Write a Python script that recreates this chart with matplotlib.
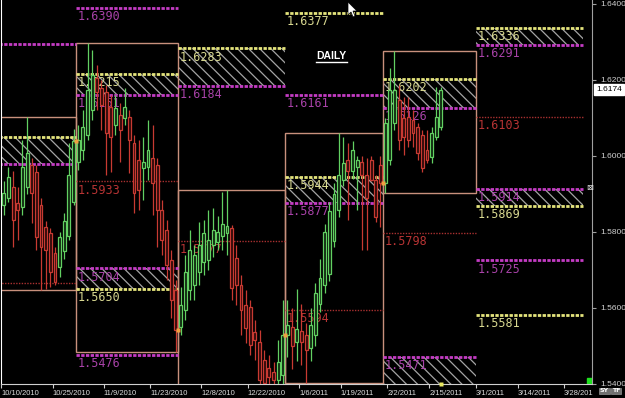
import numpy as np
import pandas as pd
import matplotlib
matplotlib.use('Agg')
import matplotlib.pyplot as plt
from matplotlib.patches import Rectangle, Polygon
from matplotlib.transforms import blended_transform_factory

# === Daily candles, 2010-10-08 .. 2011-02-17 ===
first_candle = '2010-10-08'
opens = [1.5871, 1.5890, 1.5919, 1.5877, 1.5866, 1.5919, 1.5977, 1.5958, 1.5871, 1.5813, 1.5798, 1.5745, 1.5708, 1.5750, 1.5790, 1.5880,
         1.5985, 1.6016, 1.6055, 1.6121, 1.6205, 1.6179, 1.6169, 1.6129, 1.6082, 1.6108, 1.6100, 1.6103, 1.6034, 1.5989, 1.5969, 1.5971,
         1.5995, 1.5976, 1.5858, 1.5806, 1.5727, 1.5648,
         1.5551, 1.5595, 1.5648, 1.5661, 1.5695, 1.5721, 1.5727, 1.5766, 1.5774, 1.5790, 1.5798, 1.5811, 1.5732, 1.5661, 1.5608, 1.5603,
         1.5537, 1.5511, 1.5464, 1.5443, 1.5432, 1.5411, 1.5424,
         1.5530, 1.5550, 1.5510, 1.5540, 1.5530, 1.5495, 1.5530, 1.5610, 1.5660, 1.5690, 1.5775, 1.5858, 1.5937, 1.5990, 1.5960, 1.5970,
         1.5985, 1.5950, 1.5990, 1.5937, 1.5976,
         1.5929, 1.5989, 1.6087, 1.6147, 1.6100, 1.6103, 1.6095, 1.6076, 1.6055, 1.6016, 1.5997, 1.6050, 1.6076]
highs = [1.5935, 1.5970, 1.5960, 1.5919, 1.6042, 1.6103, 1.5995, 1.5975, 1.5890, 1.5830, 1.5810, 1.5760, 1.5800, 1.5850, 1.6035, 1.6070,
         1.6082, 1.6121, 1.6297, 1.6279, 1.6240, 1.6200, 1.6187, 1.6161, 1.6161, 1.6140, 1.6179, 1.6121, 1.6055, 1.6042, 1.6050, 1.6095,
         1.6082, 1.5995, 1.5884, 1.5832, 1.5753, 1.5674,
         1.5656, 1.5740, 1.5806, 1.5766, 1.5827, 1.5832, 1.5858, 1.5863, 1.5842, 1.5905, 1.5911, 1.5819, 1.5766, 1.5687, 1.5648, 1.5622,
         1.5569, 1.5543, 1.5490, 1.5477, 1.5458, 1.5516, 1.5622,
         1.5622, 1.5600, 1.5650, 1.5610, 1.5560, 1.5600, 1.5666, 1.5730, 1.5820, 1.5880, 1.5930, 1.6061, 1.6050, 1.6034, 1.6040, 1.6000,
         1.6000, 1.5995, 1.6000, 1.5950, 1.6000,
         1.6100, 1.6232, 1.6276, 1.6187, 1.6155, 1.6155, 1.6121, 1.6087, 1.6068, 1.6068, 1.6076, 1.6182, 1.6182]
lows = [1.5845, 1.5880, 1.5761, 1.5779, 1.5845, 1.5900, 1.5824, 1.5753, 1.5648, 1.5650, 1.5655, 1.5660, 1.5682, 1.5730, 1.5780, 1.5870,
        1.5963, 1.5989, 1.6042, 1.6095, 1.6121, 1.6068, 1.5950, 1.5958, 1.6055, 1.5984, 1.6082, 1.5955, 1.5850, 1.5858, 1.5884, 1.5937,
        1.5845, 1.5761, 1.5740, 1.5674, 1.5574, 1.5485,
        1.5530, 1.5569, 1.5622, 1.5622, 1.5661, 1.5687, 1.5700, 1.5735, 1.5753, 1.5753, 1.5740, 1.5622, 1.5608, 1.5530, 1.5508, 1.5477,
        1.5464, 1.5390, 1.5385, 1.5390, 1.5385, 1.5390, 1.5398,
        1.5470, 1.5440, 1.5460, 1.5450, 1.5403, 1.5460, 1.5500, 1.5590, 1.5640, 1.5670, 1.5760, 1.5840, 1.5920, 1.5832, 1.5940, 1.5858,
        1.5753, 1.5753, 1.5935, 1.5825, 1.5813,
        1.5903, 1.5976, 1.6068, 1.6016, 1.6003, 1.6024, 1.6024, 1.5989, 1.5958, 1.5982, 1.5982, 1.6042, 1.6068]
closes = [1.5903, 1.5945, 1.5832, 1.5858, 1.5971, 1.6008, 1.5903, 1.5787, 1.5761, 1.5753, 1.5695, 1.5669, 1.5787, 1.5830, 1.5950, 1.6040,
          1.6042, 1.6076, 1.6174, 1.6213, 1.6169, 1.6134, 1.6060, 1.6050, 1.6126, 1.6068, 1.6129, 1.6042, 1.5903, 1.5911, 1.5984, 1.6016,
          1.5929, 1.5858, 1.5779, 1.5713, 1.5622, 1.5543,
          1.5608, 1.5695, 1.5753, 1.5740, 1.5766, 1.5798, 1.5779, 1.5806, 1.5800, 1.5821, 1.5816, 1.5653, 1.5661, 1.5595, 1.5548, 1.5503,
          1.5516, 1.5411, 1.5403, 1.5419, 1.5411, 1.5458, 1.5530,
          1.5556, 1.5500, 1.5545, 1.5510, 1.5490, 1.5556, 1.5640, 1.5680, 1.5800, 1.5855, 1.5900, 1.5950, 1.5982, 1.5960, 1.6016, 1.5989,
          1.5950, 1.5890, 1.5937, 1.5840, 1.5929,
          1.6087, 1.6174, 1.6174, 1.6042, 1.6050, 1.6042, 1.6061, 1.6008, 1.5969, 1.5989, 1.6061, 1.6103, 1.6174]

# === Monthly levels ===
months = ['2010-10', '2010-11', '2010-12', '2011-01', '2011-02', '2011-03']
line_month = ['2010-10', '2010-10', '2010-10', '2010-10',
              '2010-11', '2010-11', '2010-11', '2010-11', '2010-11', '2010-11', '2010-11',
              '2010-12', '2010-12', '2010-12',
              '2011-01', '2011-01', '2011-01', '2011-01', '2011-01',
              '2011-02', '2011-02', '2011-02', '2011-02',
              '2011-03', '2011-03', '2011-03', '2011-03', '2011-03', '2011-03', '2011-03']
line_price = [1.6295, 1.6050, 1.5979, 1.5666,
              1.6390, 1.6215, 1.6161, 1.5933, 1.5704, 1.5650, 1.5476,
              1.6283, 1.6184, 1.5777,
              1.6377, 1.6161, 1.5944, 1.5877, 1.5594,
              1.6202, 1.6126, 1.5798, 1.5471,
              1.6336, 1.6291, 1.6103, 1.5914, 1.5869, 1.5725, 1.5581]
line_kind = ['m', 'y', 'm', 'r',
             'm', 'y', 'm', 'r', 'm', 'y', 'm',
             'y', 'm', 'r',
             'y', 'm', 'y', 'm', 'r',
             'y', 'm', 'r', 'm',
             'y', 'm', 'r', 'm', 'y', 'm', 'y']
zone_month = ['2010-10', '2010-11', '2010-11', '2010-12', '2011-01', '2011-02', '2011-02', '2011-03', '2011-03']
zone_top = [1.6050, 1.6215, 1.5704, 1.6283, 1.5944, 1.6202, 1.5471, 1.6336, 1.5914]
zone_bottom = [1.5979, 1.6161, 1.5650, 1.6184, 1.5877, 1.6126, 1.5360, 1.6291, 1.5869]

tick_dates = ['2010-10-10', '2010-10-25', '2010-11-09', '2010-11-23', '2010-12-08', '2010-12-22',
              '2011-01-06', '2011-01-19', '2011-02-02', '2011-02-15', '2011-03-01', '2011-03-14', '2011-03-28']
tick_text = ['10/10/2010', '10/25/2010', '11/9/2010', '11/23/2010', '12/8/2010', '12/22/2010',
             '1/6/2011', '1/19/2011', '2/2/2011', '2/15/2011', '3/1/2011', '3/14/2011', '3/28/201']
price_ticks = [1.54, 1.56, 1.58, 1.60, 1.62, 1.64]

LINE_COL = {'y': '#e4e47c', 'm': '#c43cc4', 'r': '#a83030'}
TEXT_COL = {'y': '#d8d890', 'm': '#a842a8', 'r': '#b83434'}
GREEN, RED = '#62d062', '#c83a32'
BOX_COL = '#c8907c'

# --- trading-day axis ---
days = pd.bdate_range('2010-10-01', '2011-03-31')
x0 = days.get_loc(pd.Timestamp(first_candle))
xs = x0 + np.arange(len(closes))
o, h, l, c = map(np.array, (opens, highs, lows, closes))

seg = {}
for m in months:
    idx = np.where(days.strftime('%Y-%m') == m)[0]
    seg[m] = (idx[0] - 0.5, idx[-1] + 0.5)

xmin = x0 - 0.5
xmax = xmin + 590.5 / 4.65

fig = plt.figure(figsize=(6.25, 3.98), dpi=100, facecolor='black')
ax = fig.add_axes([1.5 / 625, 14 / 398, 590.5 / 625, 384 / 398])
ax.set_facecolor('black')
plt.rcParams['hatch.linewidth'] = 0.9

# hatched zones
for m, t, b in zip(zone_month, zone_top, zone_bottom):
    s0, s1 = seg[m]
    ax.add_patch(Rectangle((s0, b), s1 - s0, t - b, facecolor='none', edgecolor='#a4a4a4',
                           hatch='\\\\\\', lw=0, zorder=1))

# monthly range boxes
for m in months:
    s0, s1 = seg[m]
    sel = (xs > s0) & (xs < s1)
    if sel.any():
        hi, lo = h[sel].max(), l[sel].min()
        ax.add_patch(Rectangle((s0, lo), s1 - s0, hi - lo, fill=False, edgecolor=BOX_COL, lw=1, zorder=2))

# level lines + labels
for m, p, k in zip(line_month, line_price, line_kind):
    s0, s1 = seg[m]
    if k == 'r':
        ax.plot([s0, s1], [p, p], color=LINE_COL[k], lw=1, ls=(0, (1, 1)), zorder=2.5)
    else:
        ax.plot([s0, s1], [p, p], color=LINE_COL[k], lw=2, ls=(0, (1.2, 0.5)), zorder=2.5)
    if s0 >= xmin:
        ax.annotate(f'{p:.4f}', (s0 + 0.4, p), xytext=(0, -1.5), textcoords='offset points',
                    ha='left', va='top', fontsize=8.5, family='DejaVu Sans Mono',
                    color=TEXT_COL[k], zorder=3, annotation_clip=True)

# candles
up = c >= o
cols = np.where(up, GREEN, RED)
ax.vlines(xs, l, h, colors=cols, lw=0.9, zorder=4)
body_lo = np.minimum(o, c)
body_h = np.maximum(np.abs(c - o), 0.00015)
ax.bar(xs, body_h, bottom=body_lo, width=0.62, color=np.where(up, '#0c200c', '#2a0808'),
       edgecolor=cols, lw=0.9, zorder=5)

# previous-close markers at each month start
for m in months[1:5]:
    s0, _ = seg[m]
    prev = xs < s0
    ax.plot(s0, c[prev][-1], 's', ms=2.5, color='#f0a040', mec='none', zorder=6)

ax.set_xlim(xmin, xmax)
ax.set_ylim(1.5400, 1.64105)

# axes styling
ax.spines['top'].set_visible(False)
ax.spines['left'].set_color('white')
ax.spines['bottom'].set_color('#d0d0d0')
ax.spines['right'].set_color('#a0a0a0')

tick_pos = [days.searchsorted(pd.Timestamp(d), side='right') - 1 - 0.5 for d in tick_dates]
ax.set_xticks(tick_pos)
ax.set_xticklabels(tick_text, ha='left', fontsize=5.5, color='#dcdcdc', family='Liberation Sans')
ax.tick_params(axis='x', length=3, width=0.8, color='#d0d0d0', pad=1.5)

ax.yaxis.tick_right()
ax.set_yticks(price_ticks)
ax.set_yticklabels([f'{p:.4f}' for p in price_ticks], fontsize=6, color='#d0d0d0', family='Liberation Sans')
ax.tick_params(axis='y', length=3, width=0.8, color='#a0a0a0', pad=3)

# current bar marker on the time axis
ax.plot(xs[-1], 1.5400, 's', ms=2.5, color='#e8e860', mec='none', clip_on=False, zorder=7)

# last price tag
tr = blended_transform_factory(ax.transAxes, ax.transData)
ax.annotate(f'{closes[-1]:.4f}', xy=(1, closes[-1]), xycoords=tr, xytext=(3, 0), textcoords='offset points',
            ha='left', va='center', fontsize=6, color='black', family='Liberation Sans',
            bbox=dict(boxstyle='square,pad=0.25', fc='white', ec='white'), annotation_clip=False)

# title tag
ax.text(0.558, 0.855, 'DAILY', transform=ax.transAxes, ha='center', va='center',
        color='white', fontsize=7.5, fontweight='bold', family='Liberation Sans', zorder=8)
ax.plot([0.533, 0.585], [0.838, 0.838], transform=ax.transAxes, color='white', lw=1, zorder=8)

# mouse pointer left on the screenshot
cursor = [(348, 2), (348, 15), (351, 12), (353, 17), (355, 16), (353, 11), (357, 11)]
fig.patches.append(Polygon([(px / 625, 1 - py / 398) for px, py in cursor], closed=True,
                           transform=fig.transFigure, fc='white', ec='black', lw=0.5, zorder=9))

# small widgets on the frame
ax.add_patch(Rectangle((0.991, 0.0), 0.009, 0.016, transform=ax.transAxes, color='#20e020', zorder=8))
fig.text(590 / 625, 1 - 187 / 398, '\u22a0', color='#e0e0e0', fontsize=6, ha='center', va='center')
fig.text(604 / 625, 1 - 391 / 398, 'SY', color='white', fontsize=4.5, fontweight='bold', ha='center', va='center',
         bbox=dict(boxstyle='square,pad=0.15', fc='#707070', ec='#909090', lw=0.5))
fig.text(616 / 625, 1 - 391 / 398, 'TF', color='white', fontsize=4.5, fontweight='bold', ha='center', va='center',
         bbox=dict(boxstyle='square,pad=0.15', fc='#707070', ec='#909090', lw=0.5))

fig.savefig('out.png', dpi=100, facecolor='black')
plt.close(fig)
